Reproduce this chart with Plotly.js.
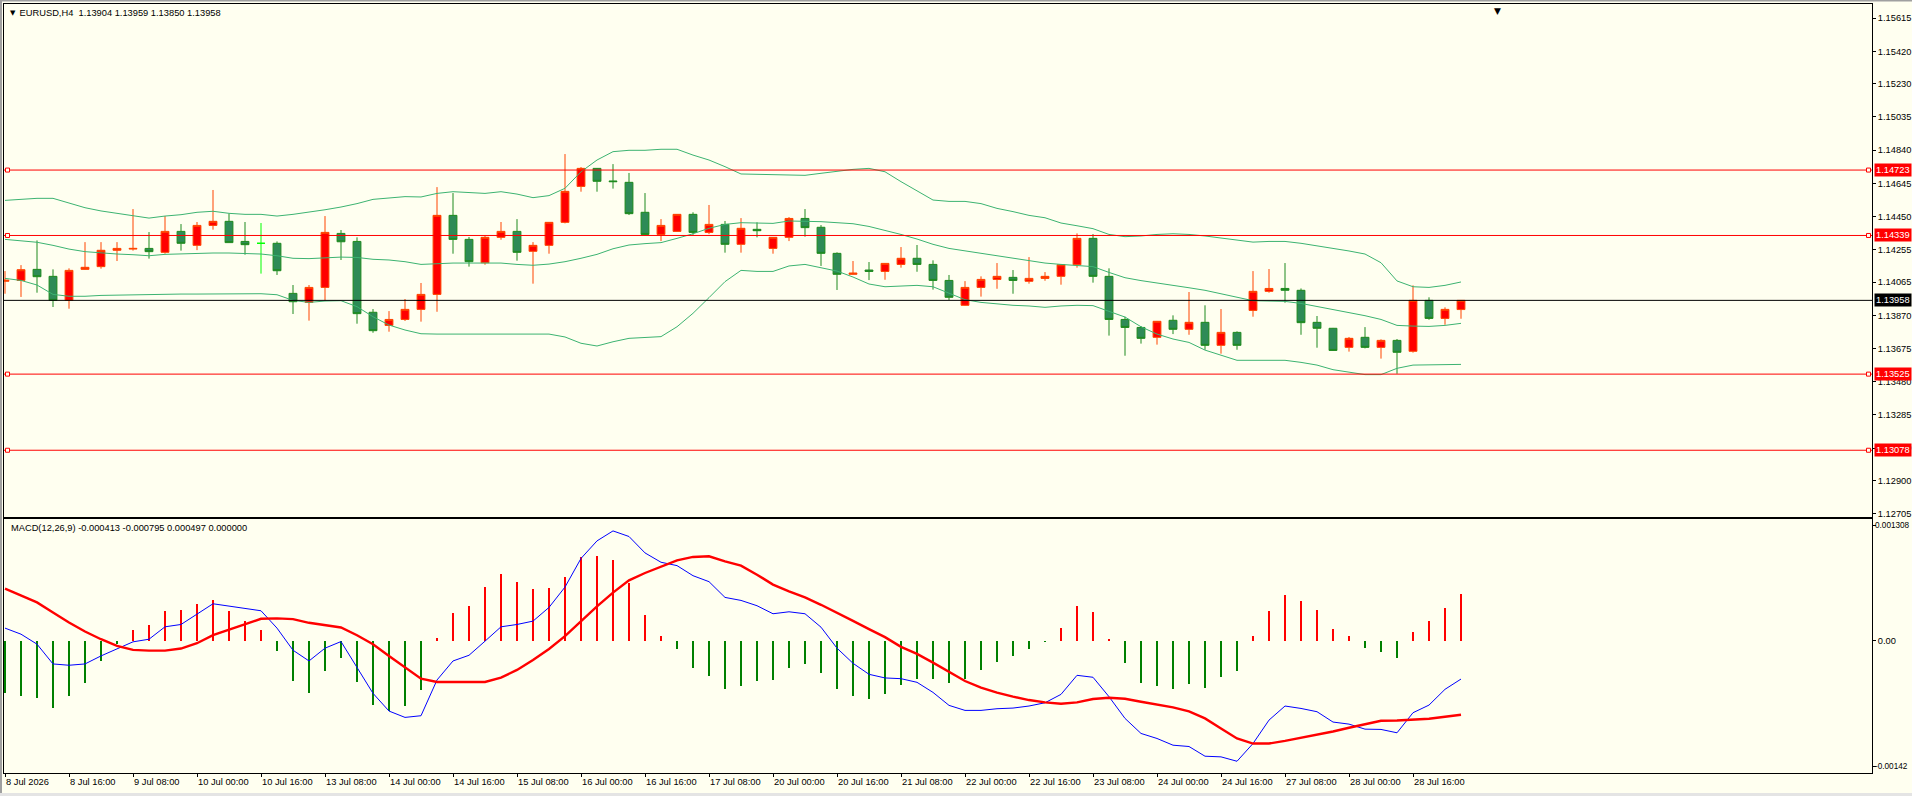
<!DOCTYPE html>
<html>
<head>
<meta charset="utf-8">
<script src="https://cdn.plot.ly/plotly-3.0.1.min.js"></script>
<style>
html,body{margin:0;padding:0;background:#FFFFF0;}
#chart{width:1912px;height:796px;}
</style>
</head>
<body>
<div id="chart"></div>
<script>
// ---------------- data ----------------
const dateLabels = ["8 Jul 2026","8 Jul 16:00","9 Jul 08:00","10 Jul 00:00","10 Jul 16:00","13 Jul 08:00","14 Jul 00:00","14 Jul 16:00","15 Jul 08:00","16 Jul 00:00","16 Jul 16:00","17 Jul 08:00","20 Jul 00:00","20 Jul 16:00","21 Jul 08:00","22 Jul 00:00","22 Jul 16:00","23 Jul 08:00","24 Jul 00:00","24 Jul 16:00","27 Jul 08:00","28 Jul 00:00","28 Jul 16:00"];
const barsPerLabel = 4;

const open  = [1.14070,1.14075,1.14140,1.14099,1.13958,1.14140,1.14156,1.14252,1.14259,1.14263,1.14240,1.14363,1.14281,1.14398,1.14422,1.14304,1.14293,1.14293,1.13999,1.13946,1.14034,1.14351,1.14304,1.13888,
               1.13811,1.13846,1.13905,1.13993,1.14457,1.14316,1.14179,1.14328,1.14363,1.14246,1.14281,1.14416,1.14627,1.14733,1.14659,1.14651,1.14475,1.14345,1.14363,1.14463,1.14357,1.14404,1.14287,
               1.14375,1.14263,1.14328,1.14439,1.14387,1.14234,1.14111,1.14136,1.14128,1.14169,1.14205,1.14169,1.14075,1.13929,1.14034,1.14081,1.14093,1.14070,1.14087,1.14099,1.14167,1.14322,1.14099,
               1.13846,1.13799,1.13741,1.13841,1.13788,1.13829,1.13694,1.13770,1.13899,1.14011,1.14028,1.14017,1.13829,1.13794,1.13682,1.13741,1.13682,1.13723,1.13659,1.13958,1.13852,1.13904];
const high  = [1.14130,1.14165,1.14310,1.14140,1.14146,1.14300,1.14300,1.14300,1.14494,1.14359,1.14453,1.14406,1.14418,1.14606,1.14467,1.14418,1.14412,1.14304,1.14048,1.14048,1.14453,1.14371,1.14328,1.13907,
               1.13895,1.13966,1.14060,1.14623,1.14588,1.14330,1.14338,1.14418,1.14435,1.14300,1.14418,1.14817,1.14741,1.14735,1.14758,1.14706,1.14588,1.14435,1.14465,1.14475,1.14518,1.14424,1.14441,
               1.14416,1.14330,1.14447,1.14494,1.14400,1.14240,1.14189,1.14183,1.14177,1.14271,1.14283,1.14193,1.14107,1.14071,1.14099,1.14177,1.14136,1.14212,1.14124,1.14169,1.14351,1.14347,1.14146,
               1.13862,1.13807,1.13837,1.13870,1.14007,1.13929,1.13907,1.13776,1.14130,1.14142,1.14177,1.14028,1.13866,1.13796,1.13743,1.13801,1.13729,1.13731,1.14046,1.13976,1.13917,1.13959];
const low   = [1.13997,1.13978,1.14003,1.13919,1.13909,1.14138,1.14144,1.14189,1.14250,1.14203,1.14232,1.14250,1.14253,1.14373,1.14297,1.14226,1.14115,1.14107,1.13878,1.13839,1.13956,1.14195,1.13821,1.13768,
               1.13774,1.13837,1.13833,1.13891,1.14232,1.14156,1.14167,1.14314,1.14191,1.14056,1.14232,1.14410,1.14596,1.14596,1.14614,1.14459,1.14342,1.14306,1.14361,1.14343,1.14347,1.14238,1.14238,
               1.14328,1.14232,1.14306,1.14332,1.14160,1.14019,1.14109,1.14077,1.14079,1.14150,1.14126,1.14021,1.13960,1.13927,1.13980,1.14026,1.13997,1.14056,1.14073,1.14050,1.14150,1.14062,1.13751,
               1.13633,1.13704,1.13698,1.13760,1.13756,1.13668,1.13645,1.13668,1.13862,1.14003,1.13944,1.13756,1.13680,1.13662,1.13657,1.13676,1.13616,1.13527,1.13651,1.13844,1.13815,1.13850];
const close = [1.14076,1.14138,1.14097,1.13958,1.14134,1.14152,1.14252,1.14263,1.14263,1.14244,1.14363,1.14293,1.14398,1.14422,1.14297,1.14285,1.14293,1.14132,1.13950,1.14034,1.14357,1.14302,1.13880,1.13780,
               1.13846,1.13905,1.13993,1.14457,1.14316,1.14185,1.14328,1.14363,1.14240,1.14281,1.14416,1.14598,1.14733,1.14657,1.14655,1.14467,1.14345,1.14398,1.14463,1.14357,1.14404,1.14287,1.14381,
               1.14367,1.14328,1.14439,1.14385,1.14234,1.14111,1.14118,1.14128,1.14175,1.14205,1.14169,1.14075,1.13976,1.14034,1.14081,1.14099,1.14075,1.14087,1.14099,1.14167,1.14322,1.14099,1.13846,
               1.13799,1.13735,1.13835,1.13788,1.13829,1.13694,1.13770,1.13694,1.14011,1.14028,1.14017,1.13827,1.13794,1.13664,1.13735,1.13682,1.13723,1.13653,1.13958,1.13852,1.13905,1.13958];

const bbUpper = [1.14545,1.14551,1.14557,1.14557,1.14528,1.14502,1.14483,1.14469,1.14459,1.14441,1.14453,1.14461,1.14475,1.14481,1.14469,1.14463,1.14463,1.14453,1.14463,1.14475,1.14490,1.14506,1.14526,1.14551,
                 1.14561,1.14567,1.14565,1.14586,1.14596,1.14590,1.14586,1.14596,1.14582,1.14561,1.14573,1.14616,1.14713,1.14782,1.14831,1.14839,1.14839,1.14845,1.14845,1.14811,1.14782,1.14743,1.14700,
                 1.14698,1.14696,1.14692,1.14692,1.14704,1.14715,1.14727,1.14733,1.14713,1.14655,1.14600,1.14547,1.14539,1.14539,1.14526,1.14498,1.14479,1.14457,1.14443,1.14412,1.14396,1.14379,1.14345,
                 1.14332,1.14336,1.14345,1.14349,1.14345,1.14336,1.14324,1.14314,1.14300,1.14304,1.14304,1.14293,1.14279,1.14263,1.14248,1.14230,1.14179,1.14072,1.14038,1.14034,1.14046,1.14066];
const bbMiddle = [1.14316,1.14306,1.14299,1.14281,1.14259,1.14244,1.14236,1.14230,1.14226,1.14220,1.14228,1.14232,1.14236,1.14236,1.14236,1.14232,1.14230,1.14220,1.14205,1.14203,1.14207,1.14212,1.14210,1.14199,
                  1.14195,1.14185,1.14169,1.14175,1.14177,1.14177,1.14177,1.14177,1.14169,1.14164,1.14171,1.14185,1.14205,1.14228,1.14261,1.14283,1.14291,1.14297,1.14322,1.14349,1.14381,1.14404,1.14414,
                  1.14410,1.14410,1.14424,1.14424,1.14420,1.14414,1.14408,1.14392,1.14369,1.14345,1.14318,1.14287,1.14263,1.14248,1.14236,1.14220,1.14203,1.14189,1.14177,1.14169,1.14162,1.14156,1.14122,
                  1.14091,1.14074,1.14060,1.14050,1.14032,1.14017,1.13997,1.13974,1.13956,1.13954,1.13952,1.13940,1.13923,1.13903,1.13888,1.13868,1.13846,1.13811,1.13807,1.13805,1.13811,1.13823];
const bbLower = [1.14087,1.14075,1.14048,1.13993,1.13982,1.13982,1.13987,1.13989,1.13993,1.13995,1.13995,1.13995,1.13995,1.13995,1.13993,1.13997,1.13997,1.13991,1.13958,1.13946,1.13954,1.13956,1.13921,1.13862,
                 1.13813,1.13784,1.13762,1.13760,1.13760,1.13760,1.13760,1.13760,1.13764,1.13760,1.13760,1.13743,1.13706,1.13690,1.13715,1.13735,1.13739,1.13745,1.13803,1.13882,1.13974,1.14068,1.14134,
                 1.14128,1.14128,1.14160,1.14169,1.14150,1.14130,1.14095,1.14054,1.14038,1.14040,1.14046,1.14038,1.13999,1.13962,1.13946,1.13936,1.13929,1.13925,1.13917,1.13925,1.13929,1.13927,1.13895,
                 1.13860,1.13803,1.13760,1.13731,1.13711,1.13666,1.13637,1.13606,1.13606,1.13606,1.13606,1.13594,1.13578,1.13551,1.13535,1.13522,1.13522,1.13559,1.13578,1.13578,1.13578,1.13582];

const macdHist = [-0.000559,-0.000591,-0.000613,-0.000720,-0.000591,-0.000452,-0.000215,-0.000036,0.000115,0.000168,0.000319,0.000330,0.000394,0.000437,0.000319,0.000211,0.000115,-0.000108,-0.000430,-0.000559,-0.000323,-0.000183,-0.000441,-0.000688,
                  -0.000753,-0.000699,-0.000527,0.000029,0.000290,0.000373,0.000577,0.000717,0.000631,0.000556,0.000566,0.000685,0.000896,0.000910,0.000867,0.000613,0.000276,0.000050,-0.000086,-0.000290,-0.000376,-0.000516,-0.000487,
                  -0.000434,-0.000423,-0.000294,-0.000247,-0.000348,-0.000516,-0.000591,-0.000624,-0.000573,-0.000477,-0.000409,-0.000409,-0.000452,-0.000412,-0.000315,-0.000229,-0.000165,-0.000090,-0.000011,0.000136,0.000373,0.000308,0.000018,
                  -0.000240,-0.000452,-0.000484,-0.000516,-0.000462,-0.000505,-0.000387,-0.000323,0.000050,0.000319,0.000491,0.000427,0.000330,0.000125,0.000050,-0.000075,-0.000118,-0.000183,0.000093,0.000211,0.000351,0.000497];
const macdMain = [0.000133,0.000068,-0.000039,-0.000251,-0.000265,-0.000251,-0.000165,-0.000090,-0.000014,0.000014,0.000147,0.000172,0.000283,0.000394,0.000369,0.000340,0.000319,0.000133,-0.000104,-0.000219,-0.000082,-0.000011,-0.000287,-0.000566,
                  -0.000756,-0.000824,-0.000806,-0.000423,-0.000219,-0.000158,-0.000007,0.000147,0.000172,0.000208,0.000355,0.000573,0.000880,0.001068,0.001175,0.001115,0.000939,0.000839,0.000803,0.000695,0.000631,0.000462,0.000430,
                  0.000373,0.000287,0.000308,0.000287,0.000143,-0.000082,-0.000244,-0.000362,-0.000401,-0.000409,-0.000448,-0.000556,-0.000695,-0.000749,-0.000749,-0.000731,-0.000724,-0.000702,-0.000667,-0.000577,-0.000373,-0.000394,-0.000602,
                  -0.000835,-0.000996,-0.001050,-0.001122,-0.001136,-0.001240,-0.001247,-0.001294,-0.001104,-0.000853,-0.000702,-0.000728,-0.000763,-0.000874,-0.000896,-0.000950,-0.000953,-0.000989,-0.000774,-0.000692,-0.000523,-0.000413];
const macdSignal = [0.000556,0.000484,0.000409,0.000301,0.000194,0.000097,0.000014,-0.000057,-0.000100,-0.000108,-0.000108,-0.000086,-0.000029,0.000057,0.000115,0.000176,0.000233,0.000237,0.000229,0.000190,0.000165,0.000140,0.000057,-0.000039,
                    -0.000165,-0.000290,-0.000409,-0.000444,-0.000444,-0.000444,-0.000444,-0.000398,-0.000315,-0.000208,-0.000090,0.000047,0.000211,0.000366,0.000513,0.000645,0.000724,0.000796,0.000860,0.000896,0.000903,0.000849,0.000803,
                    0.000706,0.000599,0.000527,0.000462,0.000383,0.000301,0.000211,0.000122,0.000036,-0.000068,-0.000143,-0.000237,-0.000337,-0.000434,-0.000505,-0.000559,-0.000602,-0.000638,-0.000663,-0.000677,-0.000663,-0.000627,-0.000613,
                    -0.000624,-0.000656,-0.000685,-0.000717,-0.000760,-0.000835,-0.000943,-0.001050,-0.001104,-0.001104,-0.001075,-0.001043,-0.001004,-0.000975,-0.000935,-0.000896,-0.000860,-0.000857,-0.000849,-0.000839,-0.000817,-0.000795];

const redLevels = [1.14723, 1.14339, 1.13525, 1.13078];
const bidLevel = 1.13958;
const priceTicks = [1.15615,1.15420,1.15230,1.15035,1.14840,1.14645,1.14450,1.14255,1.14065,1.13870,1.13675,1.13480,1.13285,1.13090,1.12900,1.12705];
const priceRange = [1.12689, 1.15698];
const macdRange = [-0.00142, 0.001308];
const macdTopLabel = "0.001308";
const macdZeroLabel = "0.00";
const macdBottomLabel = "-0.00142";
const titleText = "EURUSD,H4&nbsp; 1.13904 1.13959 1.13850 1.13958";
const macdTitle = "MACD(12,26,9) -0.000413 -0.000795 0.000497 0.000000";

// ---------------- layout helpers (pixels) ----------------
const W = 1912, H = 796;
const L = 4, R = 1872, T = 4, B = 773;
const priceBottom = 516.5, macdTop = 518.5;
const PW = R - L, PH = B - T;
const px = v => (v - L) / PW;
const py = v => (B - v) / PH;
const barPx = 16, bar0 = 5;

const n = close.length;
const idx = [...Array(n).keys()];
const font = "Liberation Sans, Arial, sans-serif";
const fs = 9.3;

const isDoji = idx.map(i => open[i] === close[i]);
const pick = (arr, want) => idx.filter(i => isDoji[i] === want).map(i => arr[i]);

const traces = [];
traces.push({
  type: 'candlestick', xaxis: 'x', yaxis: 'y',
  x: pick(idx, false), open: pick(open, false), high: pick(high, false), low: pick(low, false), close: pick(close, false),
  increasing: {line: {color: '#FF4500', width: 1}, fillcolor: '#FF0000'},
  decreasing: {line: {color: '#1E8A1E', width: 1}, fillcolor: '#2E8B57'},
  whiskerwidth: 0, hoverinfo: 'skip', showlegend: false
});
traces.push({
  type: 'candlestick', xaxis: 'x', yaxis: 'y',
  x: pick(idx, true), open: pick(open, true), high: pick(high, true), low: pick(low, true), close: pick(close, true),
  increasing: {line: {color: '#00FF00', width: 1}, fillcolor: '#00FF00'},
  decreasing: {line: {color: '#00FF00', width: 1}, fillcolor: '#00FF00'},
  whiskerwidth: 0, hoverinfo: 'skip', showlegend: false
});
[bbUpper, bbMiddle, bbLower].forEach(b => traces.push({
  type: 'scatter', mode: 'lines', xaxis: 'x', yaxis: 'y', x: idx, y: b,
  line: {color: '#3CB371', width: 1}, hoverinfo: 'skip', showlegend: false
}));
traces.push({
  type: 'bar', xaxis: 'x2', yaxis: 'y2', x: idx, y: macdHist, width: 0.15,
  marker: {color: macdHist.map(v => v >= 0 ? '#FF0000' : '#008000'), line: {width: 0}},
  hoverinfo: 'skip', showlegend: false
});
traces.push({
  type: 'scatter', mode: 'lines', xaxis: 'x2', yaxis: 'y2', x: idx, y: macdMain,
  line: {color: '#0000FF', width: 1}, hoverinfo: 'skip', showlegend: false
});
traces.push({
  type: 'scatter', mode: 'lines', xaxis: 'x2', yaxis: 'y2', x: idx, y: macdSignal,
  line: {color: '#FF0000', width: 2.4}, hoverinfo: 'skip', showlegend: false
});

const shapes = [];
const annotations = [];
redLevels.forEach(v => {
  shapes.push({type: 'line', xref: 'paper', yref: 'y', x0: 0, x1: 1, y0: v, y1: v, line: {color: '#FF0000', width: 1}});
  [0, 1].forEach(a => shapes.push({
    type: 'rect', xref: 'paper', yref: 'y', xsizemode: 'pixel', ysizemode: 'pixel',
    xanchor: a, yanchor: v, x0: a === 0 ? 1.5 : -5.5, x1: a === 0 ? 5.5 : -1.5, y0: -2, y1: 2,
    line: {color: '#FF0000', width: 1}, fillcolor: '#FFFFF0'
  }));
  annotations.push({xref: 'paper', yref: 'y', x: 1, y: v, xanchor: 'left', yanchor: 'middle', xshift: 2,
    text: v.toFixed(5), showarrow: false, bgcolor: '#FF0000', borderpad: 1,
    font: {family: font, size: fs, color: '#FFFFFF'}});
});
shapes.push({type: 'line', xref: 'paper', yref: 'y', x0: 0, x1: 1, y0: bidLevel, y1: bidLevel, line: {color: '#000000', width: 1}});
annotations.push({xref: 'paper', yref: 'y', x: 1, y: bidLevel, xanchor: 'left', yanchor: 'middle', xshift: 2,
  text: bidLevel.toFixed(5), showarrow: false, bgcolor: '#000000', borderpad: 1,
  font: {family: font, size: fs, color: '#FFFFFF'}});

// window frame
shapes.push({type: 'rect', xref: 'paper', yref: 'paper', x0: px(0), x1: px(2), y0: py(0), y1: py(796), line: {width: 0}, fillcolor: '#A0A0A0', layer: 'below'});
shapes.push({type: 'rect', xref: 'paper', yref: 'paper', x0: px(0), x1: px(1912), y0: py(0), y1: py(1.5), line: {width: 0}, fillcolor: '#A0A0A0', layer: 'below'});
shapes.push({type: 'rect', xref: 'paper', yref: 'paper', x0: px(0), x1: px(1912), y0: py(793), y1: py(796), line: {width: 0}, fillcolor: '#E4E4E4', layer: 'below'});

annotations.push({xref: 'paper', yref: 'paper', x: px(7.5), y: py(12.8), xanchor: 'left', yanchor: 'middle',
  text: '▼', showarrow: false, font: {family: 'DejaVu Sans', size: 7, color: '#000000'}});
annotations.push({xref: 'paper', yref: 'paper', x: px(1497.5), y: py(4), xanchor: 'center', yanchor: 'top',
  text: '▼', showarrow: false, font: {family: 'DejaVu Sans', size: 9, color: '#000000'}});
annotations.push({xref: 'paper', yref: 'paper', x: px(9), y: py(528), xanchor: 'left', yanchor: 'middle',
  text: macdTitle, showarrow: false, font: {family: font, size: fs, color: '#000000'}});

const macdScale = (B - macdTop) / (macdRange[1] - macdRange[0]);
const macdTopPos = macdRange[1] - 6.5 / macdScale;
const macdBottomPos = macdRange[0] + 6.5 / macdScale;
// MACD window max/min labels (kept inside the canvas)
annotations.push({xref: 'paper', yref: 'y2', x: 1, y: macdTopPos, xanchor: 'left', yanchor: 'middle', xshift: 2,
  text: macdTopLabel, showarrow: false, borderpad: 0, font: {family: font, size: 8.2, color: '#000000'}});
annotations.push({xref: 'paper', yref: 'y2', x: 1, y: macdBottomPos, xanchor: 'left', yanchor: 'middle', xshift: 2,
  text: macdBottomLabel, showarrow: false, borderpad: 0, font: {family: font, size: 8.2, color: '#000000'}});

const xRange = [(L - bar0) / barPx, (R - bar0) / barPx];
const tickIdx = dateLabels.map((_, k) => k * barsPerLabel);

const axisCommon = {showgrid: false, zeroline: false, showline: true, linecolor: '#000000', linewidth: 1, mirror: true,
  tickcolor: '#000000', tickfont: {family: font, size: fs, color: '#000000'}, fixedrange: true};

const layout = {
  width: W, height: H,
  margin: {l: L, r: W - R, t: T, b: H - B, pad: 0},
  paper_bgcolor: '#FFFFF0', plot_bgcolor: '#FFFFF0',
  showlegend: false, hovermode: false, dragmode: false,
  title: {text: titleText, xref: 'container', yref: 'container', x: 19.6 / W, xanchor: 'left',
          y: 1 - 12.8 / H, yanchor: 'middle', font: {family: font, size: fs, color: '#000000'}, pad: {t: 0, b: 0, l: 0, r: 0}},
  xaxis: Object.assign({}, axisCommon, {domain: [0, 1], range: xRange, anchor: 'y', showticklabels: false, ticks: '',
          rangeslider: {visible: false}}),
  xaxis2: Object.assign({}, axisCommon, {domain: [0, 1], range: xRange, anchor: 'y2', matches: 'x',
          tickmode: 'array', tickvals: tickIdx, ticktext: dateLabels, ticks: 'outside', ticklen: 3,
          ticklabelposition: 'outside right', rangeslider: {visible: false}}),
  yaxis: Object.assign({}, axisCommon, {domain: [py(priceBottom), 1], range: priceRange, anchor: 'x', side: 'right',
          tickmode: 'array', tickvals: priceTicks, ticktext: priceTicks.map(v => v.toFixed(5)), ticks: 'outside', ticklen: 3}),
  yaxis2: Object.assign({}, axisCommon, {domain: [0, py(macdTop)], range: macdRange, anchor: 'x2', side: 'right',
          tickmode: 'array', tickvals: [macdTopPos, 0, macdBottomPos], ticktext: ['', macdZeroLabel, ''], ticks: 'outside', ticklen: 3}),
  boxgap: 0.3,
  bargap: 0,
  shapes: shapes,
  annotations: annotations
};

Plotly.newPlot('chart', traces, layout, {displayModeBar: false, staticPlot: true, responsive: false});
</script>
</body>
</html>
